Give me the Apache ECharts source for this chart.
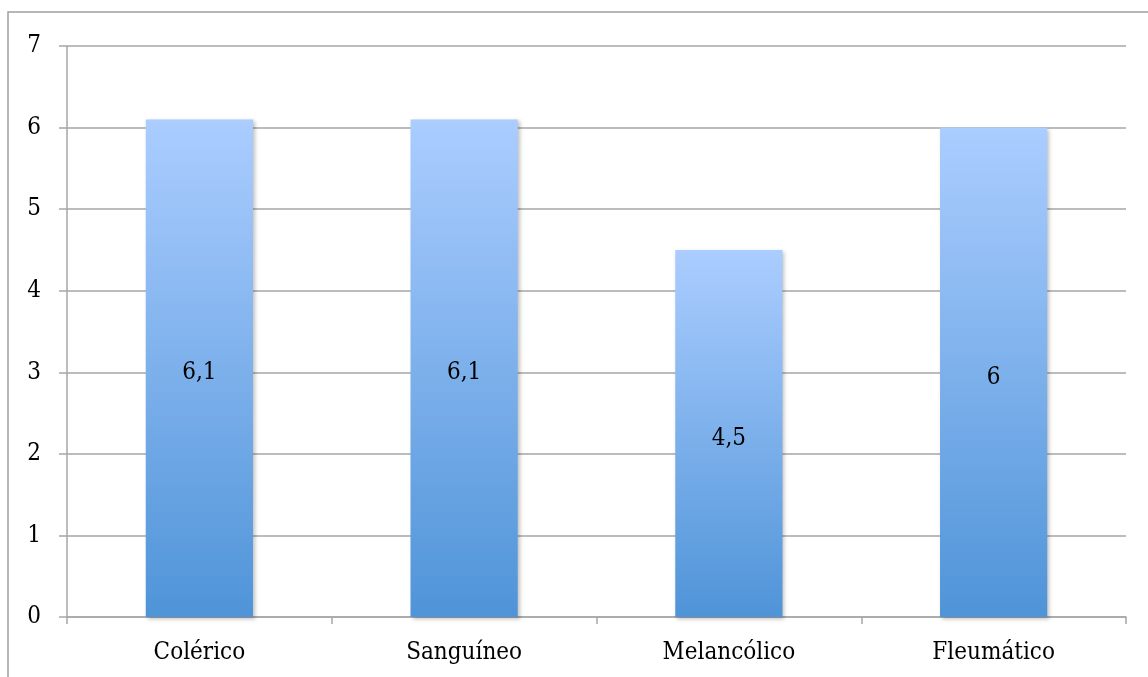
<!DOCTYPE html>
<html>
<head>
<meta charset="utf-8">
<script src="https://cdn.jsdelivr.net/npm/echarts@6/dist/echarts.min.js"></script>
<style>
  html, body { margin: 0; padding: 0; background: #ffffff; }
  #chart { width: 1148px; height: 677px; }
</style>
</head>
<body>
<div id="chart"></div>
<script>
// Temperament scores per category
const categories = ['Colérico', 'Sanguíneo', 'Melancólico', 'Fleumático'];
const scores = [6.1, 6.1, 4.5, 6];
const yTicks = [0, 1, 2, 3, 4, 5, 6, 7];

const FONT = '"DejaVu Serif Condensed", "DejaVu Serif", serif';
const GRID_COLOR = '#a6a6a6';

const chart = echarts.init(document.getElementById('chart'), null, { renderer: 'canvas' });

chart.setOption({
  animation: false,
  backgroundColor: '#ffffff',
  graphic: [{
    type: 'rect',
    silent: true,
    shape: { x: 8, y: 12, width: 1200, height: 700 },
    style: { fill: 'none', stroke: '#a0a0a0', lineWidth: 1.5 },
    z: 0
  }],
  grid: { left: 67, right: 22, top: 46, bottom: 60 },
  xAxis: {
    type: 'category',
    data: categories,
    axisLine: { show: true, lineStyle: { color: GRID_COLOR, width: 1.5 } },
    axisTick: { show: true, length: 7, lineStyle: { color: GRID_COLOR, width: 1.5 } },
    axisLabel: { color: '#000', fontFamily: FONT, fontSize: 24, margin: 24 }
  },
  yAxis: {
    type: 'value',
    min: yTicks[0],
    max: yTicks[yTicks.length - 1],
    interval: 1,
    axisLine: { show: true, lineStyle: { color: GRID_COLOR, width: 1.5 } },
    axisTick: { show: true, length: 8, lineStyle: { color: GRID_COLOR, width: 1.5 } },
    axisLabel: { color: '#000', fontFamily: FONT, fontSize: 24, margin: 26 },
    splitLine: { show: true, lineStyle: { color: GRID_COLOR, width: 1.5 } }
  },
  series: [{
    type: 'bar',
    data: scores,
    barWidth: '40.5%',
    itemStyle: {
      color: new echarts.graphic.LinearGradient(0, 0, 0, 1, [
        { offset: 0, color: '#abcdff' },
        { offset: 1, color: '#4f94d8' }
      ]),
      shadowColor: 'rgba(0,0,0,0.25)',
      shadowBlur: 4,
      shadowOffsetX: 2,
      shadowOffsetY: 2
    },
    label: {
      show: true,
      position: 'inside',
      offset: [0, 5],
      color: '#000',
      fontFamily: FONT,
      fontSize: 24,
      formatter: p => String(p.value).replace('.', ',')
    }
  }]
});
</script>
</body>
</html>
